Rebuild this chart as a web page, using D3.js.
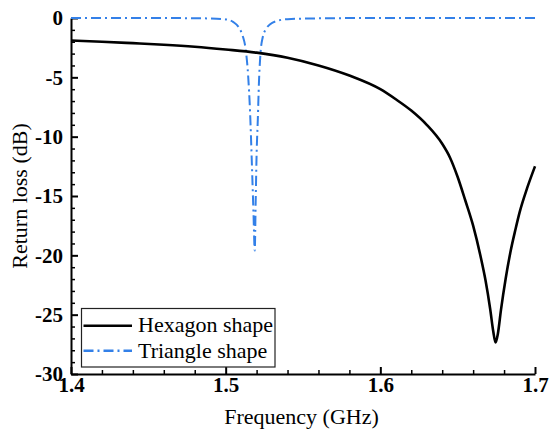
<!DOCTYPE html>
<html>
<head>
<meta charset="utf-8">
<script src="https://cdn.jsdelivr.net/npm/d3@7"></script>
<style>
  html, body { margin: 0; padding: 0; background: #fff; }
  svg { display: block; }
</style>
</head>
<body>
<svg width="549" height="434"></svg>
<script>
// Return loss of the two patch shapes (GHz, dB)
const hexFreq = [1.40, 1.42, 1.44, 1.46, 1.48, 1.50, 1.52, 1.54, 1.56, 1.58, 1.60, 1.61, 1.62, 1.63, 1.64, 1.645, 1.65, 1.655, 1.66, 1.665, 1.668, 1.671, 1.673, 1.6745, 1.676, 1.678, 1.681, 1.684, 1.6874, 1.69, 1.695, 1.70];
const hexLoss = [-1.90, -2.00, -2.12, -2.25, -2.42, -2.65, -2.92, -3.35, -4.00, -4.85, -6.00, -6.85, -7.80, -9.00, -10.60, -11.75, -13.40, -15.40, -17.50, -20.20, -22.10, -24.50, -26.40, -27.35, -26.60, -24.60, -22.00, -19.80, -17.80, -16.40, -14.30, -12.50];

const triFreq = [1.40, 1.45, 1.48, 1.49, 1.50, 1.505, 1.509, 1.511, 1.513, 1.5145, 1.5158, 1.517, 1.518, 1.5188, 1.5194, 1.5200, 1.5208, 1.5215, 1.5225, 1.524, 1.526, 1.529, 1.533, 1.54, 1.56, 1.60, 1.70];
const triLoss = [0, 0, -0.02, -0.04, -0.12, -0.35, -0.90, -1.50, -2.70, -4.80, -8.00, -12.50, -16.50, -19.60, -15.50, -11.50, -8.50, -5.50, -3.00, -1.60, -0.95, -0.50, -0.25, -0.10, -0.03, 0, 0];

const xMajor = [1.4, 1.5, 1.6, 1.7];
const yMajor = [0, -5, -10, -15, -20, -25, -30];

const seriesNames = ["Hexagon shape", "Triangle shape"];
const seriesColors = ["#000000", "#3380e8"];

const SERIF = "Liberation Serif";

const svg = d3.select("svg");
const x = d3.scaleLinear().domain([1.4, 1.7]).range([71, 535]);
const y = d3.scaleLinear().domain([-30, 0]).range([374, 18]);

const xMinor = d3.range(0, 16).map(i => 1.4 + i * 0.02).filter(v => !xMajor.some(m => Math.abs(m - v) < 1e-9));
const yMinor = d3.range(0, 31).map(i => -i).filter(v => v % 5 !== 0);

// minor ticks (inward)
svg.append("g").attr("transform", `translate(0,${y(-30)})`)
  .call(d3.axisBottom(x).tickValues(xMinor).tickSize(-4).tickFormat(""))
  .call(g => g.select(".domain").remove())
  .selectAll("line").attr("stroke", "#000").attr("stroke-width", 1.5);
svg.append("g").attr("transform", `translate(${x(1.4)},0)`)
  .call(d3.axisLeft(y).tickValues(yMinor).tickSize(-4).tickFormat(""))
  .call(g => g.select(".domain").remove())
  .selectAll("line").attr("stroke", "#000").attr("stroke-width", 1.5);

function styleAxis(g) {
  g.attr("font-family", SERIF).attr("font-size", 21).attr("font-weight", "bold");
  g.select(".domain").attr("stroke", "#000").attr("stroke-width", 2);
  g.selectAll(".tick line").attr("stroke", "#000").attr("stroke-width", 2);
  g.selectAll(".tick text").attr("fill", "#000");
}

// major axes
svg.append("g").attr("transform", `translate(0,${y(-30)})`)
  .call(d3.axisBottom(x).tickValues(xMajor).tickSize(-7).tickSizeOuter(0).tickPadding(3).tickFormat(d3.format(".1f")))
  .call(styleAxis);

svg.append("g").attr("transform", `translate(${x(1.4)},0)`)
  .call(d3.axisLeft(y).tickValues(yMajor).tickSize(-7).tickSizeOuter(0).tickPadding(8).tickFormat(d => String(d)))
  .call(styleAxis);

// axis titles
svg.append("text")
  .attr("x", 301.5).attr("y", 424)
  .attr("text-anchor", "middle")
  .attr("font-family", SERIF)
  .attr("font-size", 22)
  .text("Frequency (GHz)");
svg.append("text")
  .attr("transform", "translate(27,196) rotate(-90)")
  .attr("text-anchor", "middle")
  .attr("font-family", SERIF)
  .attr("font-size", 22)
  .text("Return loss (dB)");

// curves
const line = d3.line().x(d => x(d[0])).y(d => y(d[1])).curve(d3.curveMonotoneX);
const hexData = hexFreq.map((f, i) => [f, hexLoss[i]]);
const triData = triFreq.map((f, i) => [f, triLoss[i]]);

const triDash = "10,4,2,4";

svg.append("path").datum(triData)
  .attr("d", line).attr("fill", "none")
  .attr("stroke", seriesColors[1]).attr("stroke-width", 2)
  .attr("stroke-dasharray", triDash);
svg.append("path").datum(hexData)
  .attr("d", line).attr("fill", "none")
  .attr("stroke", seriesColors[0]).attr("stroke-width", 2.6);

// legend
const lg = svg.append("g");
lg.append("rect").attr("x", 81.5).attr("y", 308.5).attr("width", 193.5).attr("height", 58.5)
  .attr("fill", "#fff").attr("stroke", "#222").attr("stroke-width", 1.2);
const sampleY = [325.7, 350.7];
const textY = [332, 358];
seriesNames.forEach((name, i) => {
  lg.append("line").attr("x1", 83.5).attr("x2", 132).attr("y1", sampleY[i]).attr("y2", sampleY[i])
    .attr("stroke", seriesColors[i]).attr("stroke-width", i === 0 ? 2.6 : 2.4)
    .attr("stroke-dasharray", i === 0 ? null : triDash);
  lg.append("text").attr("x", 138).attr("y", textY[i])
    .attr("font-family", SERIF)
    .attr("font-size", 22)
    .text(name);
});
</script>
</body>
</html>
